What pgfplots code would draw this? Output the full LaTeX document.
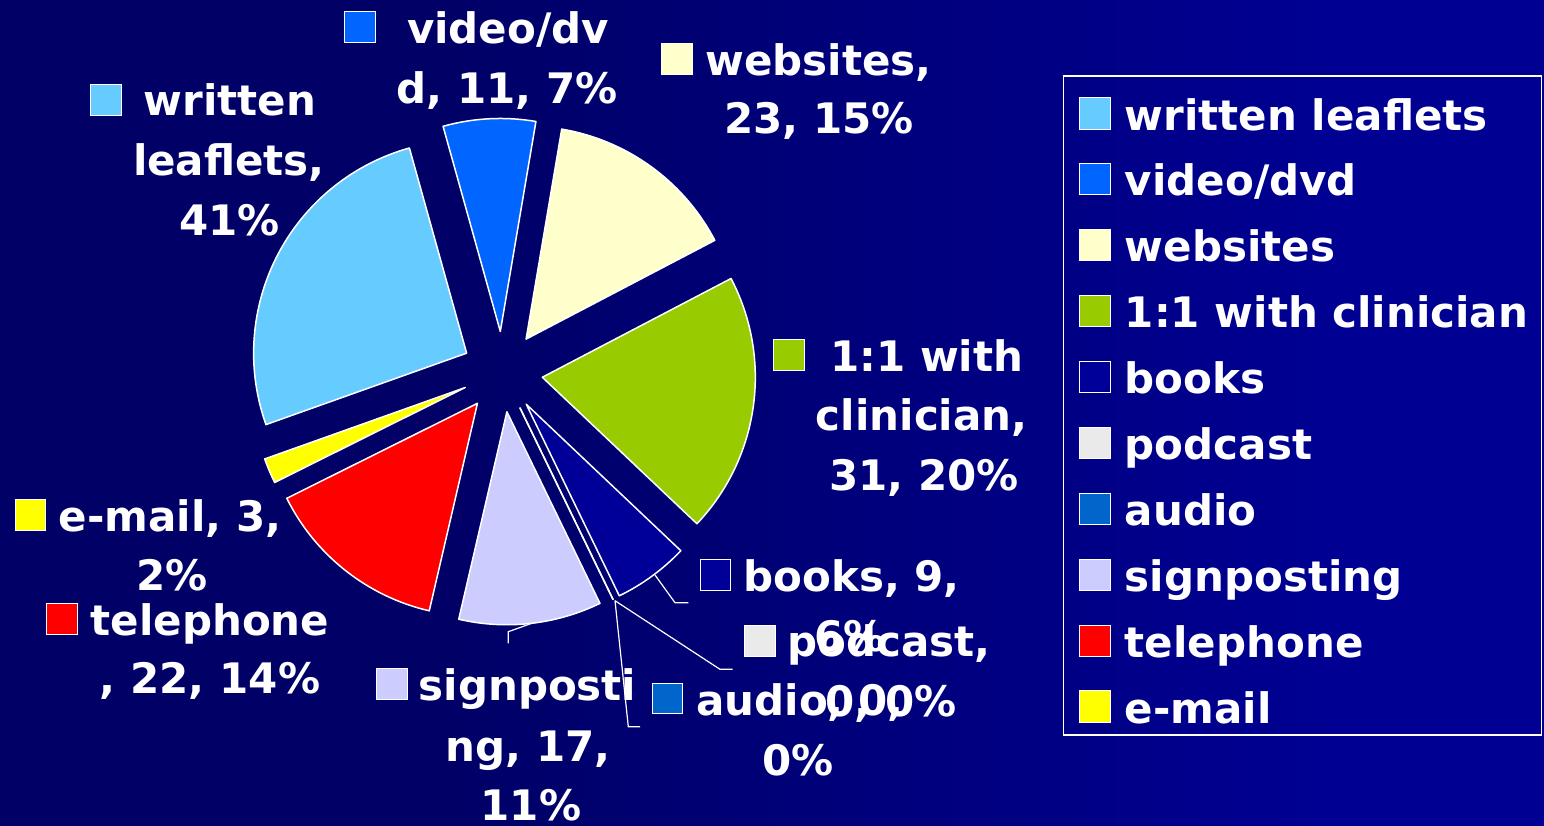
\documentclass[border=0pt]{standalone}
\usepackage{fontspec}
\setmainfont{DejaVu Sans}
\usepackage{pgfplots}
\usepackage{pgfplotstable}
\pgfplotsset{compat=1.18}

\definecolor{c0}{HTML}{66CCFF}
\definecolor{c1}{HTML}{0066FF}
\definecolor{c2}{HTML}{FFFFCC}
\definecolor{c3}{HTML}{99CC00}
\definecolor{c4}{HTML}{000099}
\definecolor{c5}{HTML}{EAEAEA}
\definecolor{c6}{HTML}{0066CC}
\definecolor{c7}{HTML}{CCCCFF}
\definecolor{c8}{HTML}{FF0000}
\definecolor{c9}{HTML}{FFFF00}
\definecolor{bgL}{HTML}{000066}
\definecolor{bgR}{HTML}{000092}
\pgfdeclarehorizontalshading{bgshade}{100bp}{color(0bp)=(bgL); color(39bp)=(bgL); color(68bp)=(bgR); color(100bp)=(bgR)}

% counts per source (written leaflets, video/dvd, websites, 1:1 with clinician,
% books, podcast, audio, signposting, telephone, e-mail)
\pgfplotstableread{
idx value
0 41
1 11
2 23
3 31
4 9
5 0
6 0
7 17
8 22
9 3
}\piedata

\def\piestart{199.6}
\def\pieD{20.15pt}
\def\pieR{106.5pt}
\pgfmathsetmacro\pietotal{0}
\pgfplotsforeachungrouped \i in {0,...,9}{%
  \pgfplotstablegetelem{\i}{value}\of\piedata
  \pgfmathsetmacro\pietotal{\pietotal+\pgfplotsretval}%
}
\def\piecmds{}
\pgfmathsetmacro\piecum{0}
\pgfplotsforeachungrouped \i in {0,...,9}{%
  \pgfplotstablegetelem{\i}{value}\of\piedata
  \let\pv\pgfplotsretval
  \pgfmathsetmacro\aS{\piestart-\piecum/\pietotal*360}%
  \pgfmathsetmacro\aE{\aS-\pv/\pietotal*360}%
  \pgfmathsetmacro\aM{(\aS+\aE)/2}%
  \xdef\piecmds{\unexpanded\expandafter{\piecmds}%
    \noexpand\filldraw[fill=c\i,draw=white,line width=0.75pt,line join=round]
    (axis cs:502.4,371.7) ++(\aM:\pieD) -- ++(\aS:\pieR)
    arc[start angle=\aS,end angle=\aE,radius=\pieR] -- cycle;}%
  \pgfmathsetmacro\piecum{\piecum+\pv}%
}

\newcommand\lblfont{\fontsize{21pt}{25pt}\selectfont\bfseries}
\newcommand\lab[3]{\node[anchor=base, text=white, font=\lblfont, inner sep=0pt] at (axis cs:#1,#2) {#3};}
\newcommand\sq[5]{\filldraw[fill=#1, draw=white, line width=0.5pt] (axis cs:#2,#3) rectangle (axis cs:#4,#5);}

\begin{document}
\begin{tikzpicture}
\begin{axis}[
  width=772pt, height=412.5pt, scale only axis,
  xmin=0, xmax=1544, ymin=0, ymax=825, y dir=reverse,
  hide axis, clip=false,
  legend image code/.code={\draw[#1] (0pt,0.5pt) rectangle (15.5pt,16.1pt);},
  legend cell align=left,
  legend style={at={(axis cs:1079.3,97)}, anchor=north west, draw=none, fill=none,
    inner sep=0pt, outer sep=0pt, row sep=11.45pt,
    nodes={inner sep=0pt, anchor=base west, text height=16.5pt, text depth=5pt, text=white, font=\lblfont},
    /tikz/every odd column/.append style={column sep=6.8pt}},
]
\shade[shading=bgshade] (axis cs:0,0) rectangle (axis cs:1544,825);
\piecmds
% leader lines
\draw[white, line width=0.6pt] (axis cs:655,575) -- (axis cs:675,602.7) -- (axis cs:688.3,602.7);
\draw[white, line width=0.6pt] (axis cs:615,600.7) -- (axis cs:720,669.3) -- (axis cs:732.7,669.3);
\draw[white, line width=0.6pt] (axis cs:615,600.7) -- (axis cs:628.3,726.7) -- (axis cs:640,726.7);
\draw[white, line width=0.6pt] (axis cs:531.7,623.3) -- (axis cs:508.3,631.7) -- (axis cs:508.3,643.3);
% data labels
\sq{c0}{90.7}{84}{121.7}{115}
\lab{230}{115}{written}\lab{229}{175}{leaflets,}\lab{229.5}{235}{41\%}
\sq{c1}{344}{11.7}{375}{42.7}
\lab{508}{43.3}{video/dv}\lab{507}{103.3}{d, 11, 7\%}
\sq{c2}{661.7}{43.3}{692.7}{74}
\lab{818.5}{75}{websites,}\lab{819}{133.3}{23, 15\%}
\sq{c3}{773}{339.3}{804}{370}
\lab{926.7}{371.7}{1:1 with}\lab{921.7}{430}{clinician,}\lab{924}{490}{31, 20\%}
\sq{c4}{700}{559.3}{730}{590}
\lab{851.7}{591.7}{books, 9,}\lab{850}{651.7}{6\%}
\sq{c5}{744}{625.3}{775}{656}
\lab{889}{656.7}{podcast,}\lab{891}{716.7}{0, 0\%}
\sq{c6}{652.3}{683.3}{682.7}{713.3}
\lab{800}{715}{audio, 0,}\lab{798}{775}{0\%}
\sq{c7}{376}{668}{407}{699}
\lab{527.5}{700}{signposti}\lab{528}{761.7}{ng, 17,}\lab{531}{820}{11\%}
\sq{c8}{46.7}{603.3}{77.3}{634}
\lab{210}{635}{telephone}\lab{210}{693.3}{, 22, 14\%}
\sq{c9}{15}{499.3}{45.7}{530}
\lab{170}{531.7}{e-mail, 3,}\lab{171.7}{590}{2\%}
% legend frame
\draw[white, line width=0.75pt] (axis cs:1063.3,76) rectangle (axis cs:1541.7,735);
\addlegendimage{fill=c0, draw=white, line width=0.5pt}
\addlegendimage{fill=c1, draw=white, line width=0.5pt}
\addlegendimage{fill=c2, draw=white, line width=0.5pt}
\addlegendimage{fill=c3, draw=white, line width=0.5pt}
\addlegendimage{fill=c4, draw=white, line width=0.5pt}
\addlegendimage{fill=c5, draw=white, line width=0.5pt}
\addlegendimage{fill=c6, draw=white, line width=0.5pt}
\addlegendimage{fill=c7, draw=white, line width=0.5pt}
\addlegendimage{fill=c8, draw=white, line width=0.5pt}
\addlegendimage{fill=c9, draw=white, line width=0.5pt}
\legend{written leaflets, video/dvd, websites, 1:1 with clinician, books, podcast, audio, signposting, telephone, e-mail}
\end{axis}
\end{tikzpicture}
\end{document}
